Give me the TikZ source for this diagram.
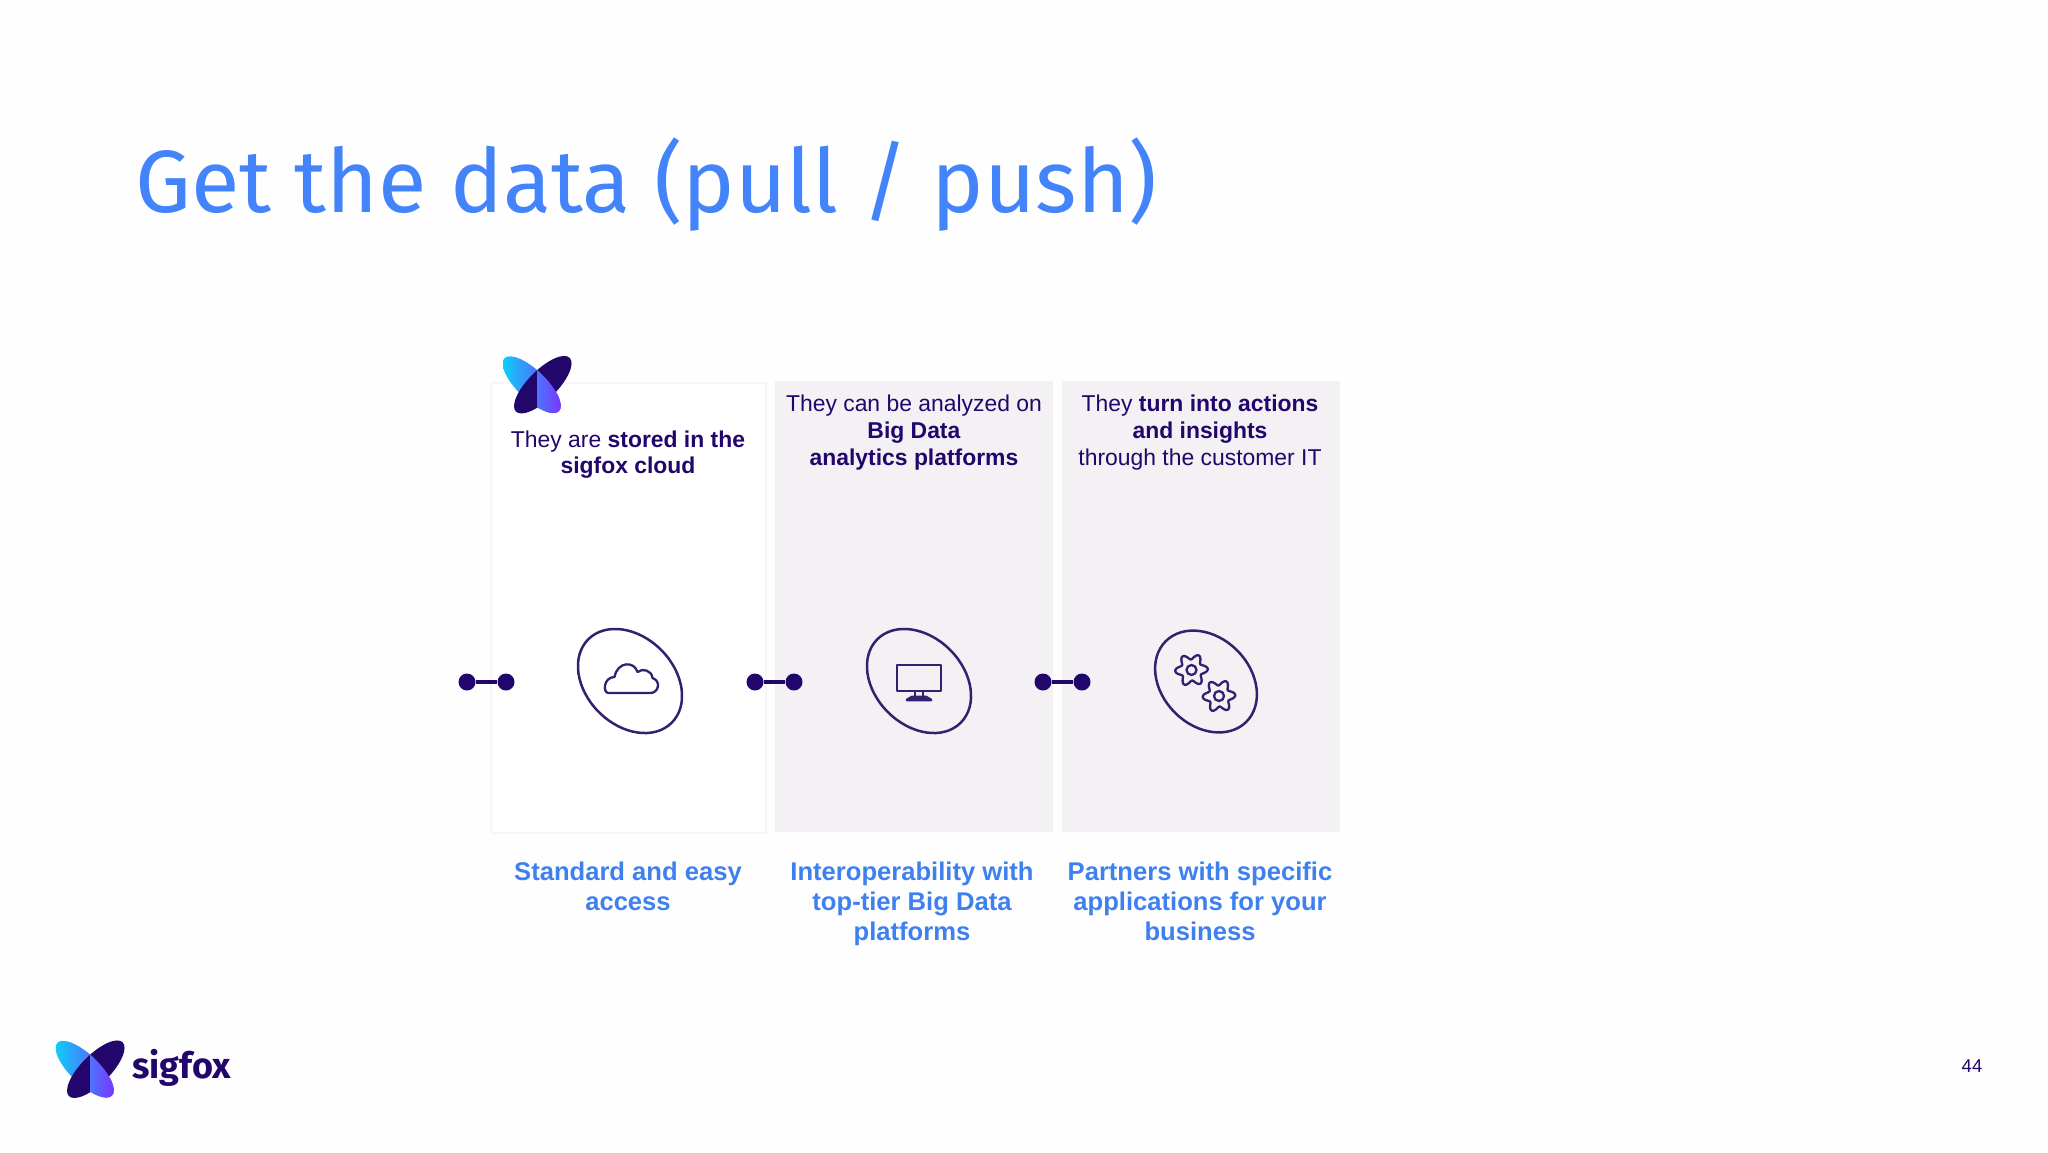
\documentclass[tikz,border=0pt]{standalone}
\usepackage{fontspec}
\setmainfont{Liberation Sans}
\newfontfamily\titlefont{Fira Sans}[WordSpace=0.9]
\newfontfamily\logofont{Fira Sans}
\definecolor{navy}{HTML}{22066B}
\definecolor{softnavy}{HTML}{352070}
\definecolor{skyblue}{HTML}{3F80F0}
\definecolor{titleblue}{HTML}{4384FA}
\definecolor{panelgray}{HTML}{F3F1F4}
\definecolor{paneledge}{HTML}{F6F5F7}
\definecolor{logocyan}{HTML}{0FCDF9}
\definecolor{logoviolet}{HTML}{7A35FF}
\tikzset{
  panel/.style={fill=panelgray,draw=none},
  headtext/.style={text=navy,align=center,font=\fontsize{22.9}{27}\selectfont,anchor=north},
  caption/.style={text=skyblue,align=center,font=\fontsize{25.6}{30}\selectfont\bfseries,anchor=north},
  dot/.style={circle,fill=navy,draw=none,minimum size=17pt,inner sep=0pt},
  linkbar/.style={draw=navy,line width=4.6pt},
  iconline/.style={draw=softnavy,line width=2.3pt,line join=round,line cap=round},
  blob/.style={draw=softnavy,line width=2.5pt}
}
% logo: origin at the point where the wings cross
\newcommand{\butterfly}[2]{%
  \begin{scope}[shift={(#1,#2)}]
    \begin{scope}
      \clip[shift={(-5.3,11.2)},rotate=-44] (0,0) ellipse (38 and 14.5);
      \shade[left color=logocyan,right color=logoviolet] (-34,-18) rectangle (24,40);
    \end{scope}
    \fill[navy,shift={(5.8,11.2)},rotate=45] (0,0) ellipse (38 and 14.5);
    \begin{scope}
      \clip (0,-18) rectangle (30,42);
      \clip[shift={(-5.3,11.2)},rotate=-44] (0,0) ellipse (38 and 14.5);
      \shade[left color=logocyan,right color=logoviolet] (-34,-18) rectangle (24,40);
    \end{scope}
  \end{scope}}
\newcommand{\gearicon}[2]{%
  \draw[iconline,shift={(#1,#2)}]
    plot[smooth cycle,samples=72,domain=0:355,variable=\t]
      ({(13.4+2.9*cos(6*\t+20))*cos(\t)},{(13.4+2.9*cos(6*\t+20))*sin(\t)});
  \draw[iconline,shift={(#1,#2)}] (0,0) circle (5);}
\begin{document}
\begin{tikzpicture}[x=1pt,y=-1pt]
\useasboundingbox (0,0) rectangle (2048,1152);
\fill[white!99.5!black] (0,0) rectangle (2048,1152);
% title
\node[anchor=base west,inner sep=0pt,text=titleblue,font=\titlefont\fontsize{88.5}{100}\selectfont] (title) at (135,212) {Get the data (pull / push)};
% panels
\node[draw=paneledge,line width=1.5pt,fill=white,minimum width=275pt,minimum height=450pt,anchor=north west,inner sep=0pt] (p1) at (490,382) {};
\node[panel,minimum width=278pt,minimum height=451pt,anchor=north west,inner sep=0pt] (p2) at (775,381) {};
\node[panel,minimum width=278pt,minimum height=451pt,anchor=north west,inner sep=0pt] (p3) at (1062,381) {};
% head texts
\node[headtext,font=\fontsize{22.9}{25.5}\selectfont] (h1) at (628,427.5) {They are \textbf{stored in the}\\\textbf{sigfox cloud}};
\node[headtext] (h2) at (914,391) {They can be analyzed on\\\textbf{Big Data}\\\textbf{analytics platforms}};
\node[headtext] (h3) at (1200,391) {They \textbf{turn into actions}\\\textbf{and insights}\\through the customer IT};
% captions
\node[caption] (c1) at (628,858) {Standard and easy\\access};
\node[caption] (c2) at (912,858) {Interoperability with\\top-tier Big Data\\platforms};
\node[caption] (c3) at (1200,858) {Partners with specific\\applications for your\\business};
% link dumbbells
\node[dot] (a1) at (467,682) {};
\node[dot] (a2) at (506,682) {};
\node[dot] (b1) at (755,682) {};
\node[dot] (b2) at (794,682) {};
\node[dot] (d1) at (1043,682) {};
\node[dot] (d2) at (1082,682) {};
\draw[linkbar] (a1) -- (a2);
\draw[linkbar] (b1) -- (b2);
\draw[linkbar] (d1) -- (d2);
% icon outlines
\draw[blob,shift={(630,681)},rotate=-45] (0,0) ellipse (59 and 44);
\draw[blob,shift={(919,681)},rotate=-45] (0,0) ellipse (59 and 44);
\draw[blob,shift={(1206,681.5)},rotate=-45] (0,0) ellipse (57 and 44);
% cloud
\begin{scope}[shift={(632.5,680)}]
\draw[iconline] (-24,13) -- (18,13) .. controls (26,13) and (29,1) .. (20,-2)
  .. controls (19,-10) and (10,-12) .. (5,-8)
  .. controls (2,-19) and (-15,-19) .. (-18,-3)
  .. controls (-29,-3) and (-30,13) .. (-24,13) -- cycle;
\end{scope}
% monitor
\begin{scope}[shift={(919,682)}]
\draw[iconline,line width=2.8pt] (-22,-17) rectangle (22,9);
\draw[iconline] (-4,9) -- (-4,15) (4,9) -- (4,15);
\draw[iconline,line width=2.8pt] (-12,18) -- (-7,15) -- (7,15) -- (12,18) -- cycle;
\end{scope}
% gears
\gearicon{1191.5}{670}
\gearicon{1219}{696}
% logos
\butterfly{537}{373.5}
\butterfly{90}{1058}
\node[anchor=base west,inner sep=0pt,text=navy,font=\logofont\bfseries\fontsize{36}{40}\selectfont] (brand) at (132,1078) {sigfox};
\node[anchor=base,inner sep=0pt,text=navy,font=\fontsize{18.5}{20}\selectfont] (page) at (1972,1072) {44};
\end{tikzpicture}
\end{document}
